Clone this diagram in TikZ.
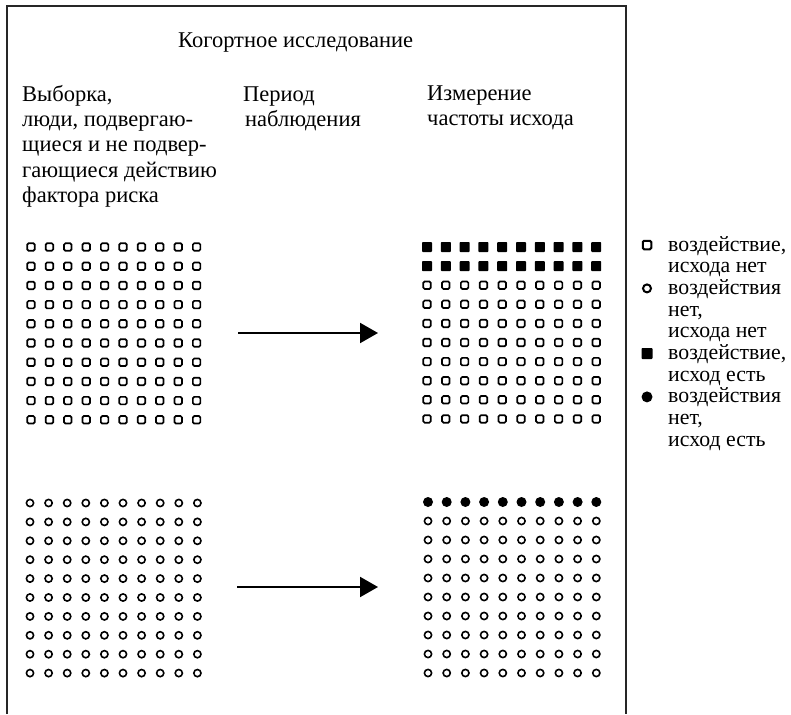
\documentclass[tikz,border=0pt]{standalone}
\usepackage{fontspec}
\setmainfont{Liberation Serif}
\usetikzlibrary{arrows.meta}
\begin{document}
\begin{tikzpicture}[x=1pt,y=-1pt,
  txt/.style={anchor=base west,inner sep=0pt,font=\fontsize{22.5}{25}\selectfont},
  leg/.style={anchor=base west,inner sep=0pt,font=\fontsize{21.8}{21.7}\selectfont},
  osq/.style={rectangle,draw,line width=1.7pt,rounded corners=1.4pt,minimum size=7.5pt,inner sep=0pt},
  fsq/.style={rectangle,fill=black,rounded corners=0.8pt,minimum size=10pt,inner sep=0pt},
  ocir/.style={circle,draw,line width=1.6pt,minimum size=7.2pt,inner sep=0pt},
  fcir/.style={circle,fill=black,minimum size=10pt,inner sep=0pt},
  frame/.style={line width=2.4pt,draw=black!85},
  arr/.style={line width=2pt,-{Triangle[length=18pt,width=20pt]}}
]
\useasboundingbox (0,0) rectangle (791,714);
% frame
\draw[frame] (7,714) -- (7,6) -- (626,6) -- (626,714);
% title
\node[txt] (title) at (178,48) {Когортное исследование};
% column 1
\node[txt] (c1a) at (22,102) {Выборка,};
\node[txt] (c1b) at (22,127) {люди, подвергаю-};
\node[txt] (c1c) at (22,152) {щиеся и не подвер-};
\node[txt] (c1d) at (22,177) {гающиеся действию};
\node[txt] (c1e) at (22,202) {фактора риска};
% column 2
\node[txt] (c2a) at (243,102) {Период};
\node[txt] (c2b) at (245,127) {наблюдения};
% column 3
\node[txt] (c3a) at (427,101) {Измерение};
\node[txt] (c3b) at (427,126) {частоты исхода};
% grids
\foreach \i in {0,...,9}{
  \foreach \j in {0,...,9}{
    \node[osq] (tl-\i-\j) at ({31+18.4*\i},{247+19.2*\j}) {};
    \node[ocir] (bl-\i-\j) at ({30+18.6*\i},{503+18.9*\j}) {};
  }
  \foreach \j in {0,1}{
    \node[fsq] (tr-\i-\j) at ({427+18.8*\i},{247+19.1*\j}) {};
  }
  \foreach \j in {2,...,9}{
    \node[osq] (tr-\i-\j) at ({427+18.8*\i},{247+19.1*\j}) {};
  }
  \node[fcir] (br-\i-0) at ({428+18.7*\i},502) {};
  \foreach \j in {1,...,9}{
    \node[ocir] (br-\i-\j) at ({428+18.7*\i},{502+19*\j}) {};
  }
}
% arrows
\coordinate (a1s) at (238,333);
\coordinate (a1e) at (378,333);
\coordinate (a2s) at (237,587);
\coordinate (a2e) at (378,587);
\draw[arr] (a1s) -- (a1e);
\draw[arr] (a2s) -- (a2e);
% legend
\node[osq,minimum size=8.5pt,line width=2pt] (ls1) at (647,245) {};
\node[leg] (l1) at (668,251) {воздействие,};
\node[leg] (l2) at (668,272.7) {исхода нет};
\node[ocir,minimum size=8pt,line width=2pt] (ls2) at (647,288.4) {};
\node[leg] (l3) at (668,294.4) {воздействия};
\node[leg] (l4) at (668,316.1) {нет,};
\node[leg] (l5) at (668,337.8) {исхода нет};
\node[fsq,minimum size=11pt] (ls3) at (647,353.5) {};
\node[leg] (l6) at (668,359.5) {воздействие,};
\node[leg] (l7) at (668,381.2) {исход есть};
\node[fcir,minimum size=11pt] (ls4) at (647,396.9) {};
\node[leg] (l8) at (668,402.9) {воздействия};
\node[leg] (l9) at (668,424.6) {нет,};
\node[leg] (l10) at (668,446.3) {исход есть};
\end{tikzpicture}
\end{document}
